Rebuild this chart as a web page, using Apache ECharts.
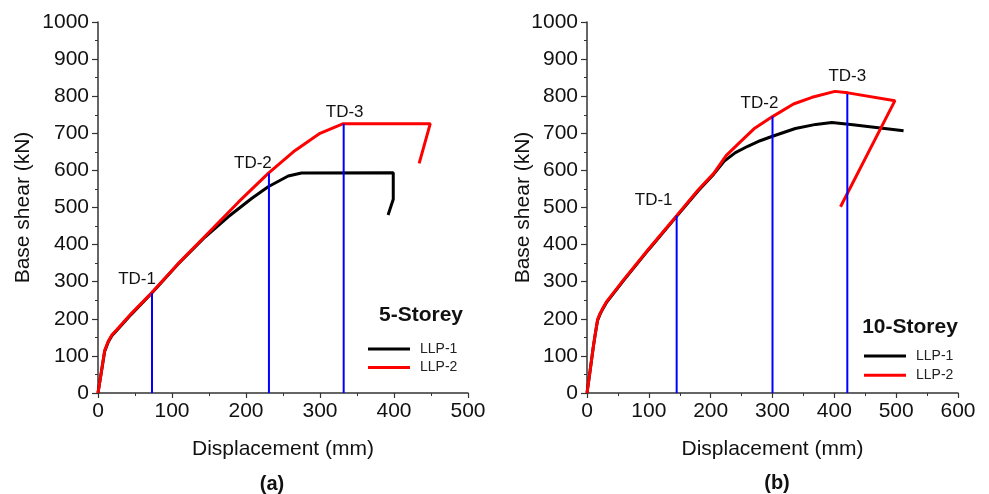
<html>
<head>
<meta charset="utf-8">
<script src="https://cdn.jsdelivr.net/npm/echarts@6/dist/echarts.min.js"></script>
</head>
<body>
<style>
  html, body, #main { width: 100%; height: 100%; margin: 0; background: #fff; }
</style>
<div id="main"></div>
<script>
// ---- data: (a) 5-Storey ----
var llp1A = [[0,0],[4,50],[9,112],[14,138],[19,155],[25,168],[45,212],[72.5,269],[108,347],[145,421],[176,475],[208,525],[230,556],[257,585],[275,593],[399,594],[399,522],[392,480]];
var llp2A = [[0,0],[4,50],[9,115],[14,140],[19,157],[25,170],[45,214],[72.5,270],[108,348],[145,423],[190,515],[230,592],[264,650],[300,700],[331.5,726],[449,726],[434,619]];
var tdXA = [73, 231, 332];
var tdTopA = [269, 592, 726];

// ---- data: (b) 10-Storey ----
var llp1B = [[0,0],[5,60],[10,122],[13,155],[17,195],[21,212],[26,228],[32,245],[60,305],[100,387],[145,476],[180,545],[205,590],[222,625],[240,648],[260,665],[280,680],[300,692],[337,713],[370,724],[396,729],[430,723],[512,707]];
var llp2B = [[0,0],[5,60],[10,122],[13,155],[17,197],[21,214],[26,230],[32,247],[60,307],[100,389],[145,478],[180,548],[205,592],[225,640],[245,672],[270,712],[300,745],[334,779],[364,797],[401,813],[422,809],[498,788],[410,502]];
var tdXB = [145, 300, 421];
var tdTopB = [478, 745, 806];

var tdNames = ['TD-1', 'TD-2', 'TD-3'];
var yTicks = [0, 1000, 100];

var FONT = '"Liberation Sans", Arial, sans-serif';
var chart = echarts.init(document.getElementById('main'));

function plain(v) { return String(v); }

function xAxisCfg(idx, max) {
  return {
    type: 'value', gridIndex: idx, min: 0, max: max, interval: 100,
    name: 'Displacement (mm)', nameLocation: 'middle', nameGap: 46, nameMoveOverlap: false,
    nameTextStyle: { fontFamily: FONT, fontSize: 21, color: '#111' },
    axisLine: { show: true, lineStyle: { color: '#333', width: 1.5 } },
    axisTick: { show: true, inside: false, length: 5, lineStyle: { color: '#333', width: 1.2 } },
    minorTick: { show: true, splitNumber: 2, length: 3, lineStyle: { color: '#333', width: 1 } },
    axisLabel: { fontFamily: FONT, fontSize: 21, color: '#111', margin: 8, formatter: plain },
    splitLine: { show: false }
  };
}
function yAxisCfg(idx, gap) {
  return {
    type: 'value', gridIndex: idx, min: yTicks[0], max: yTicks[1], interval: yTicks[2],
    name: 'Base shear (kN)', nameLocation: 'middle', nameGap: gap, nameMoveOverlap: false,
    nameTextStyle: { fontFamily: FONT, fontSize: 21, color: '#111' },
    axisLine: { show: true, lineStyle: { color: '#333', width: 1.5 } },
    axisTick: { show: true, inside: false, length: 6, lineStyle: { color: '#333', width: 1.2 } },
    minorTick: { show: true, splitNumber: 2, length: 3, lineStyle: { color: '#333', width: 1 } },
    axisLabel: { fontFamily: FONT, fontSize: 21, color: '#111', margin: 9, formatter: plain },
    splitLine: { show: false }
  };
}

function curve(name, data, color, idx) {
  return {
    name: name, type: 'line', xAxisIndex: idx, yAxisIndex: idx, data: data,
    showSymbol: false, symbol: 'none', smooth: false,
    lineStyle: { color: color, width: 3 }, itemStyle: { color: color }, z: 3
  };
}

function tdLines(xs, tops, idx, offsets) {
  return xs.map(function (x, i) {
    return {
      type: 'line', xAxisIndex: idx, yAxisIndex: idx, symbol: 'circle', symbolSize: 0,
      showSymbol: true, silent: true, z: 4,
      lineStyle: { color: '#0000ff', width: 2 }, itemStyle: { color: '#0000ff' },
      data: [
        [x, 0],
        { value: [x, tops[i]], label: {
            show: true, position: 'top', formatter: tdNames[i], offset: offsets[i],
            fontFamily: FONT, fontSize: 17, color: '#111' } }
      ]
    };
  });
}

function legendCfg(left, top, gap) {
  return {
    orient: 'vertical', left: left, top: top, padding: 0, data: ['LLP-1', 'LLP-2'],
    icon: 'rect', itemWidth: 42, itemHeight: 3, itemGap: gap,
    textStyle: { fontFamily: FONT, fontSize: 14, color: '#222', lineHeight: 16, padding: [0, 0, 0, 5] },
    selectedMode: false
  };
}

var series = [
  curve('LLP-1', llp1A, '#000000', 0),
  curve('LLP-2', llp2A, '#ff0000', 0),
  curve('LLP-1', llp1B, '#000000', 1),
  curve('LLP-2', llp2B, '#ff0000', 1)
].concat(
  tdLines(tdXA, tdTopA, 0, [[-15, 0], [-16, 3], [1, 2]]),
  tdLines(tdXB, tdTopB, 1, [[-23, -2], [-13, 0], [0, -4]])
);

chart.setOption({
  animation: false,
  backgroundColor: '#fff',
  grid: [
    { left: 98, top: 22, width: 370, height: 371 },
    { left: 587, top: 22, width: 371, height: 371 }
  ],
  xAxis: [xAxisCfg(0, 500), xAxisCfg(1, 600)],
  yAxis: [yAxisCfg(0, 64.5), yAxisCfg(1, 53.5)],
  legend: [legendCfg(368, 341, 2.4), legendCfg(864, 348, 3.3)],
  graphic: [
    { type: 'text', x: 421, y: 315, style: { text: '5-Storey', fontFamily: FONT, fontSize: 21, fontWeight: 'bold', fill: '#111', align: 'center', verticalAlign: 'middle' } },
    { type: 'text', x: 910, y: 327, style: { text: '10-Storey', fontFamily: FONT, fontSize: 21, fontWeight: 'bold', fill: '#111', align: 'center', verticalAlign: 'middle' } },
    { type: 'text', x: 272, y: 484, style: { text: '(a)', fontFamily: FONT, fontSize: 20, fontWeight: 'bold', fill: '#111', align: 'center', verticalAlign: 'middle' } },
    { type: 'text', x: 777, y: 483, style: { text: '(b)', fontFamily: FONT, fontSize: 20, fontWeight: 'bold', fill: '#111', align: 'center', verticalAlign: 'middle' } }
  ],
  series: series
});
</script>
</body>
</html>
